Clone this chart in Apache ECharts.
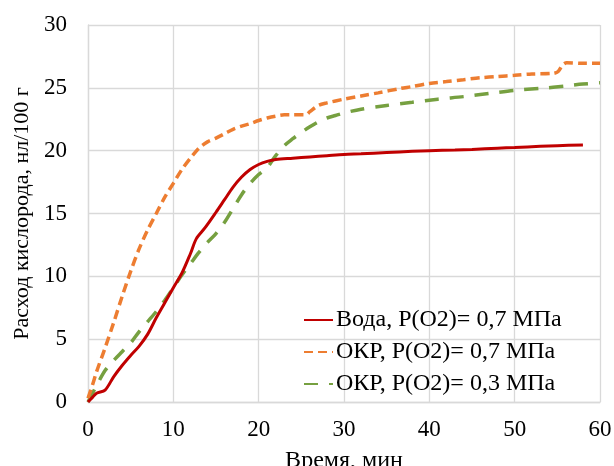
<!DOCTYPE html>
<html>
<head>
<meta charset="utf-8">
<script src="https://cdn.jsdelivr.net/npm/echarts@6/dist/echarts.min.js"></script>
<style>
html,body{margin:0;padding:0;background:#fff;}
#c{width:614px;height:466px;}
</style>
</head>
<body>
<div id="c"></div>
<script>
var seriesNames = ['Вода, P(O2)= 0,7 МПа', 'ОКР, P(O2)= 0,7 МПа', 'ОКР, P(O2)= 0,3 МПа'];
var xAxisTitle = 'Время, мин';
var yAxisTitle = 'Расход кислорода, нл/100 г';

var waterData = [[0,0],[0.5,0.35],[1,0.7],[2,0.95],[3,2.0],[4,2.9],[5,3.7],[6,4.45],[7,5.4],[8,6.7],[9,7.9],[10,9.1],[11,10.25],[12,11.8],[12.7,13.0],[13.7,13.85],[15,15.1],[16,16.1],[17,17.1],[18,17.9],[19,18.5],[20,18.9],[21,19.15],[22,19.3],[24,19.4],[26,19.5],[28,19.6],[30,19.7],[32,19.75],[35,19.85],[38,19.95],[40,20.0],[43,20.05],[45,20.1],[48,20.2],[50,20.25],[53,20.35],[55,20.4],[58,20.45]];

var okr07Data = [[0,0.3],[0.5,1.3],[1,2.4],[2,4.3],[3,6.3],[4,8.4],[5,10.4],[6,12.2],[7,13.7],[8,15.0],[9,16.3],[10,17.4],[11,18.5],[12,19.4],[13,20.2],[14,20.7],[15,21.0],[16,21.35],[17,21.7],[18,21.95],[19,22.15],[20,22.4],[21,22.6],[22,22.75],[23,22.85],[24,22.85],[25.5,22.85],[26,23.1],[27,23.6],[28,23.8],[30,24.1],[32,24.35],[34,24.6],[36.6,24.95],[38,25.1],[40,25.35],[42,25.5],[44,25.65],[46,25.8],[48,25.9],[50,26.0],[52,26.1],[54.5,26.15],[55.1,26.3],[55.6,26.8],[56.1,27.0],[58,26.95],[60,26.95]];

var okr03Data = [[0,0],[1,1.3],[2,2.5],[3,3.3],[4,4.0],[5,4.7],[6,5.6],[7,6.4],[8,7.2],[9,8.1],[10,9.1],[11,10.1],[12,11.0],[13,11.9],[14,12.7],[15,13.4],[16,14.3],[17,15.4],[18,16.5],[19,17.4],[20,18.1],[21,18.65],[22,19.6],[23,20.4],[24,20.95],[25,21.45],[26,21.9],[27,22.3],[28,22.6],[29,22.8],[30,23.0],[32,23.3],[35,23.6],[38,23.85],[41,24.1],[44,24.3],[47,24.55],[50,24.8],[53,24.95],[56,25.15],[58,25.3],[60,25.4]];

var chart = echarts.init(document.getElementById('c'), null, {renderer:'canvas'});
var font = 'Liberation Serif, Times New Roman, serif';
var gridColor = '#d9d9d9';
chart.setOption({
  animation:false,
  backgroundColor:'#fff',
  textStyle:{fontFamily:font},
  grid:{left:88, top:25, right:14, bottom:64, containLabel:false, outerBoundsMode:'none'},
  legend:{
    orient:'vertical', left:303, top:308, padding:0,
    itemWidth:29, itemHeight:14, itemGap:8,
    itemStyle:{opacity:0},
    textStyle:{fontFamily:font, fontSize:24, color:'#000', lineHeight:24, padding:[0,0,0,-2]},
    data:seriesNames
  },
  xAxis:{
    type:'value', min:0, max:60, interval:10,
    name:xAxisTitle, nameLocation:'middle', nameGap:47,
    nameTextStyle:{fontFamily:font, fontSize:24, color:'#000'},
    axisLine:{show:true, lineStyle:{color:gridColor, width:1.3}},
    axisTick:{show:false},
    axisLabel:{fontFamily:font, fontSize:23, color:'#000', margin:16},
    splitLine:{show:true, lineStyle:{color:gridColor, width:1.3}}
  },
  yAxis:{
    type:'value', min:0, max:30, interval:5,
    name:yAxisTitle, nameLocation:'middle', nameGap:55,
    nameTextStyle:{fontFamily:font, fontSize:22, color:'#000'},
    axisLine:{show:true, lineStyle:{color:gridColor, width:1.3}},
    axisTick:{show:false},
    axisLabel:{fontFamily:font, fontSize:23, color:'#000', margin:21},
    splitLine:{show:true, lineStyle:{color:gridColor, width:1.3}}
  },
  series:[
    {name:seriesNames[0], type:'line', data:waterData, symbol:'none', smooth:0.3,
     lineStyle:{color:'#c00000', width:3}, itemStyle:{color:'#c00000'}, z:5},
    {name:seriesNames[1], type:'line', data:okr07Data, symbol:'none', smooth:0.3,
     lineStyle:{color:'#ed7d31', width:3.5, type:[9,5]}, itemStyle:{color:'#ed7d31'}, z:4},
    {name:seriesNames[2], type:'line', data:okr03Data, symbol:'none', smooth:0.3,
     lineStyle:{color:'#76a040', width:3.5, type:[14,11]}, itemStyle:{color:'#76a040'}, z:3}
  ]
});
</script>
</body>
</html>
